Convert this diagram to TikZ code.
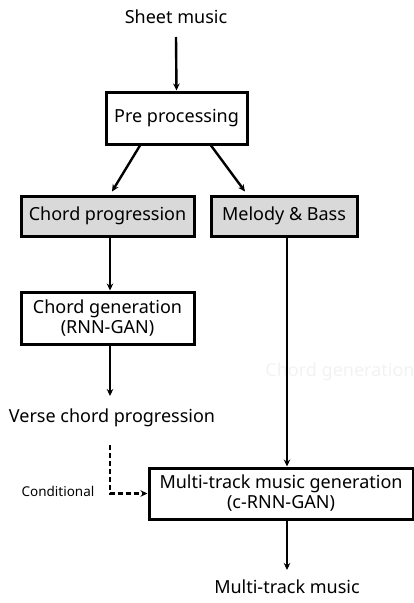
\documentclass[tikz,border=0pt]{standalone}
\usepackage{fontspec}
\setmainfont{Noto Sans}
\usetikzlibrary{arrows.meta}

\begin{document}
\begin{tikzpicture}[x=1pt, y=-1pt, >={Stealth[length=7pt,width=6.5pt]},
  box/.style={draw, line width=3pt, inner sep=0pt, align=center,
    font=\fontsize{18}{20}\selectfont},
  greybox/.style={box, fill=black!15},
  label/.style={inner sep=0pt, font=\fontsize{18}{20}\selectfont},
  arr/.style={->, line width=2.4pt},
  dasharr/.style={->, line width=2.4pt, dash pattern=on 5pt off 3pt}]
  \useasboundingbox (0,0) rectangle (414,603);

  % Input and preprocessing
  \node[label] (sheet) at (176,17) {Sheet music};
  \node[box, minimum width=141pt, minimum height=52pt] (pre) at (176.5,118) {Pre processing};

  % Two branches
  \node[greybox, minimum width=173pt, minimum height=40pt] (chord) at (107.5,216) {Chord progression};
  \node[greybox, minimum width=146pt, minimum height=40pt] (melody) at (284,216) {Melody \& Bass};

  % Chord branch
  \node[box, minimum width=173pt, minimum height=52pt] (chordgen) at (107.5,318)
    {Chord generation\\(RNN-GAN)};
  \node[label] (verse) at (112,418) {Verse chord progression};
  \node[font=\fontsize{13.5}{15}\selectfont, inner sep=0pt] (cond) at (58,491) {Conditional};
  \coordinate (condstart) at (110,445);

  % faint leftover text
  \node[label, text=black!5] (ghost) at (340,372) {Chord generation};

  % Merge
  \node[box, minimum width=264pt, minimum height=51pt] (multi) at (281,493.5)
    {Multi-track music generation\\(c-RNN-GAN)};
  \node[label] (out) at (287,587) {Multi-track music};

  % Connectors
  \draw[arr] (176,37) -- (pre.north);
  \draw[arr] ([xshift=-36.5pt]pre.south) -- ([xshift=4.5pt, yshift=3pt]chord.north);
  \draw[arr] ([xshift=34.5pt]pre.south) -- ([xshift=-39pt, yshift=3pt]melody.north);
  \draw[arr] ([xshift=2.5pt]chord.south) -- ([xshift=2.5pt]chordgen.north);
  \draw[arr] ([xshift=2.5pt]chordgen.south) -- ([xshift=2.5pt]chordgen.south |- 0,396);
  \draw[arr] ([xshift=3pt]melody.south) -- ([xshift=3pt]melody.south |- multi.north);
  \draw[dasharr] (condstart) |- (multi.west);
  \draw[arr] ([xshift=6pt]multi.south) -- (out.north |- 0,570);
\end{tikzpicture}
\end{document}
